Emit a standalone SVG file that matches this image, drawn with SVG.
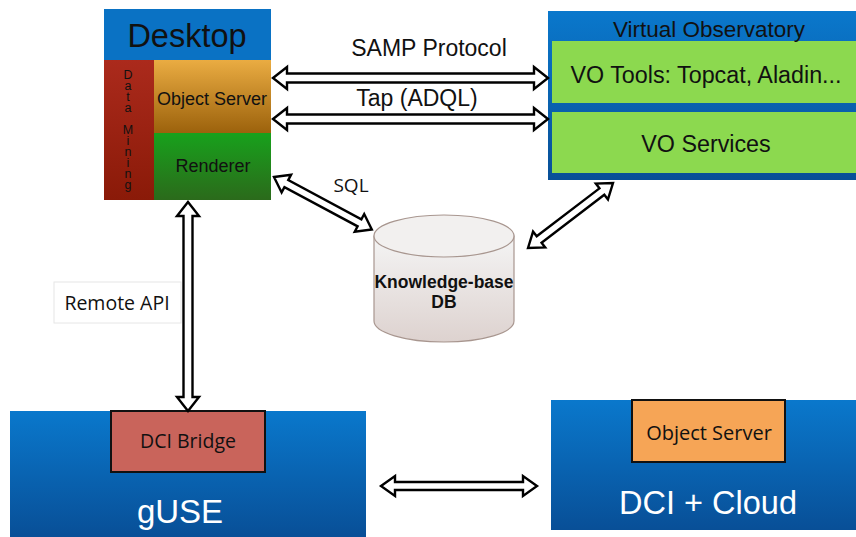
<svg xmlns="http://www.w3.org/2000/svg" width="856" height="537" viewBox="0 0 856 537">
  <defs>
    <linearGradient id="blueV" x1="0" y1="0" x2="0" y2="1">
      <stop offset="0" stop-color="#0a78cc"/>
      <stop offset="1" stop-color="#084f97"/>
    </linearGradient>
    <linearGradient id="orangeV" x1="0" y1="0" x2="0" y2="1">
      <stop offset="0" stop-color="#eaac42"/>
      <stop offset="1" stop-color="#9c620c"/>
    </linearGradient>
    <linearGradient id="greenV" x1="0" y1="0" x2="0" y2="1">
      <stop offset="0" stop-color="#18a11c"/>
      <stop offset="1" stop-color="#2b6a1b"/>
    </linearGradient>
    <linearGradient id="redV" x1="0" y1="0" x2="0" y2="1">
      <stop offset="0" stop-color="#ab2a1c"/>
      <stop offset="1" stop-color="#8a1a08"/>
    </linearGradient>
    <linearGradient id="dbFill" x1="0" y1="0" x2="0" y2="1">
      <stop offset="0" stop-color="#f4f4f4"/>
      <stop offset="1" stop-color="#ddd2cf"/>
    </linearGradient>
  </defs>
  <style>
    .sans { font-family: "Liberation Sans", Arial, sans-serif; }
    .soft { font-family: "Open Sans", "Noto Sans", sans-serif; }
    .dark { fill: #111111; }
    .white { fill: #ffffff; }
    .upright { writing-mode: vertical-rl; text-orientation: upright; }
    .arrow { fill: #ffffff; stroke: #000000; stroke-width: 2.4; stroke-linejoin: miter; }
    .box { stroke: #111111; stroke-width: 2; }
  </style>

  <rect width="856" height="537" fill="#ffffff"/>

  <!-- Desktop application -->
  <g id="desktop">
    <rect x="104" y="9" width="167" height="51" fill="#0a72c4"/>
    <rect x="104" y="60" width="50" height="140" fill="url(#redV)"/>
    <rect x="154" y="60" width="117" height="73" fill="url(#orangeV)"/>
    <rect x="154" y="133" width="117" height="67" fill="url(#greenV)"/>
    <text x="187" y="47" class="sans dark" font-size="32.5" text-anchor="middle">Desktop</text>
    <text x="212" y="105" class="sans dark" font-size="18" text-anchor="middle">Object Server</text>
    <text x="213" y="172" class="sans dark" font-size="18" text-anchor="middle">Renderer</text>
    <!-- vertical label, letters stacked upright -->
    <text x="128" y="68" class="sans dark upright" font-size="12.5" textLength="124" lengthAdjust="spacing">Data Mining</text>
  </g>

  <!-- Virtual Observatory -->
  <g id="virtual-observatory">
    <rect x="548" y="11" width="308" height="169" fill="url(#blueV)"/>
    <rect x="552" y="41" width="304" height="62" fill="#8cd94f"/>
    <rect x="552" y="112" width="304" height="61" fill="#8cd94f"/>
    <text x="709" y="37" class="sans dark" font-size="22.5" text-anchor="middle">Virtual Observatory</text>
    <text x="706" y="83" class="sans dark" font-size="23.3" text-anchor="middle">VO Tools: Topcat, Aladin...</text>
    <text x="706" y="152" class="sans dark" font-size="23.3" text-anchor="middle">VO Services</text>
  </g>

  <!-- Knowledge-base database -->
  <g id="knowledge-db">
    <path d="M374,236 L374,321 A70,21 0 0 0 514,321 L514,236 Z" fill="url(#dbFill)" stroke="#a8968f" stroke-width="1.2"/>
    <ellipse cx="444" cy="236" rx="70" ry="21" fill="#f2f0ef" stroke="#a8968f" stroke-width="1.2"/>
    <text x="444" y="288" class="sans dark" font-size="17.5" font-weight="bold" text-anchor="middle">Knowledge-base</text>
    <text x="444" y="308" class="sans dark" font-size="17.5" font-weight="bold" text-anchor="middle">DB</text>
  </g>

  <!-- Remote API label -->
  <g id="remote-api">
    <rect x="54" y="282" width="127" height="41" fill="#ffffff" stroke="#e6e6e6" stroke-width="1"/>
    <text x="117" y="310" class="soft dark" font-size="19.5" text-anchor="middle">Remote API</text>
  </g>

  <!-- gUSE -->
  <g id="guse">
    <rect x="10" y="411" width="356" height="126" fill="url(#blueV)"/>
    <rect x="111" y="411" width="154" height="61" fill="#c9645b" class="box"/>
    <text x="188" y="448" class="soft dark" font-size="19.5" text-anchor="middle">DCI Bridge</text>
    <text x="180" y="523" class="sans white" font-size="33" text-anchor="middle">gUSE</text>
  </g>

  <!-- DCI + Cloud -->
  <g id="dci-cloud">
    <rect x="551" y="400" width="305" height="130" fill="url(#blueV)"/>
    <rect x="632" y="400" width="153" height="62" fill="#f6a556" class="box"/>
    <text x="709" y="440" class="soft dark" font-size="20" text-anchor="middle">Object Server</text>
    <text x="708" y="514" class="sans white" font-size="32.5" text-anchor="middle">DCI + Cloud</text>
  </g>

  <!-- Connectors: hollow double-headed arrows -->
  <g id="connectors">
    <!-- SAMP -->
    <polygon class="arrow" transform="translate(273,78)" points="0,0 14,-11 14,-4.5 261,-4.5 261,-11 275,0 261,11 261,4.5 14,4.5 14,11"/>
    <!-- TAP -->
    <polygon class="arrow" transform="translate(273,119)" points="0,0 14,-11 14,-4.5 261,-4.5 261,-11 275,0 261,11 261,4.5 14,4.5 14,11"/>
    <!-- Remote API -->
    <polygon class="arrow" transform="translate(188,202) rotate(90)" points="0,0 14,-11 14,-4.5 195,-4.5 195,-11 209,0 195,11 195,4.5 14,4.5 14,11"/>
    <!-- SQL -->
    <polygon class="arrow" transform="translate(274,177) rotate(28.2)" points="0,0 14,-10 14,-4 97,-4 97,-10 111,0 97,10 97,4 14,4 14,10"/>
    <!-- VO services to DB -->
    <polygon class="arrow" transform="translate(528,248) rotate(-37.4)" points="0,0 14,-10 14,-4 93,-4 93,-10 107,0 93,10 93,4 14,4 14,10"/>
    <!-- gUSE to DCI + Cloud -->
    <polygon class="arrow" transform="translate(381,486)" points="0,0 14,-10 14,-4 142,-4 142,-10 156,0 142,10 142,4 14,4 14,10"/>
  </g>

  <!-- Connector labels -->
  <g id="connector-labels">
    <text x="429" y="56" class="sans dark" font-size="23" text-anchor="middle">SAMP Protocol</text>
    <text x="417" y="106" class="sans dark" font-size="23" text-anchor="middle">Tap (ADQL)</text>
    <text x="351" y="192" class="soft dark" font-size="19" text-anchor="middle">SQL</text>
  </g>
</svg>
